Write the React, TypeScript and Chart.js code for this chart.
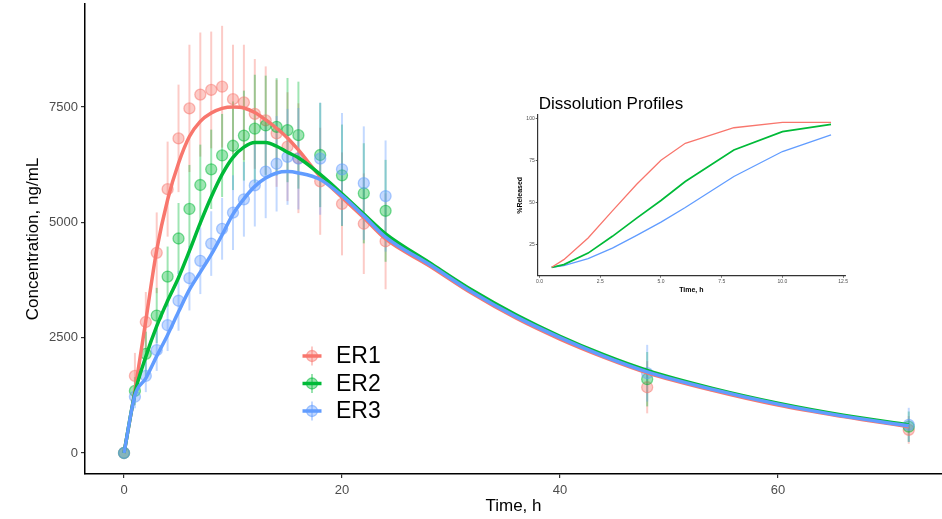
import React, { useEffect, useRef } from "react";
import { Chart, registerables } from "chart.js";

Chart.register(...registerables);

const FONT = "'Liberation Sans', Arial, Helvetica, sans-serif";

// ---------- Main plot data ----------
const SERIES = ["ER1", "ER2", "ER3"];
const COLORS = ["#F8766D", "#00BA38", "#619CFF"];

const OBS_TIMES = [0, 1, 2, 3, 4, 5, 6, 7, 8, 9, 10, 11, 12, 13, 14, 15, 16, 18, 20, 22, 24, 48, 72];
const ER1_MEAN = [0, 1670, 2840, 4340, 5720, 6820, 7470, 7770, 7870, 7940, 7670, 7600, 7350, 7210, 6930, 6640, 6390, 5890, 5400, 4970, 4590, 1425, 500];
const ER1_SD = [0, 500, 650, 875, 1030, 1165, 1380, 1345, 1265, 1320, 1180, 1250, 1190, 1170, 1160, 1180, 1190, 1160, 1115, 1090, 1040, 565, 300];
const ER2_MEAN = [0, 1345, 2150, 2980, 3825, 4650, 5290, 5810, 6150, 6450, 6660, 6880, 7030, 7100, 7070, 7000, 6890, 6460, 6020, 5630, 5250, 1600, 570];
const ER2_SD = [0, 300, 480, 600, 650, 770, 955, 875, 860, 900, 960, 975, 1170, 1080, 1055, 1130, 1160, 1130, 1100, 1085, 1105, 590, 330];
const ER3_MEAN = [0, 1220, 1670, 2230, 2770, 3300, 3790, 4165, 4540, 4860, 5210, 5500, 5800, 6100, 6270, 6420, 6380, 6380, 6150, 5850, 5570, 1730, 610];
const ER3_SD = [0, 250, 350, 450, 560, 650, 700, 720, 700, 670, 810, 810, 890, 1010, 1035, 1040, 1100, 1215, 1220, 1230, 1205, 615, 370];

const FIT_TIMES = [0, 1, 2, 3, 4, 5, 6, 7, 8, 9, 10, 11, 12, 13, 14, 15, 16, 18, 20, 22, 24, 28, 32, 36, 40, 44, 48, 54, 60, 66, 72];
const ER1_FIT = [0, 1350, 2870, 4400, 5490, 6280, 6860, 7190, 7370, 7470, 7500, 7480, 7380, 7220, 7040, 6830, 6570, 5990, 5540, 5100, 4640, 4060, 3450, 2920, 2470, 2080, 1740, 1360, 1040, 790, 570];
const ER2_FIT = [0, 1300, 2090, 2750, 3300, 3800, 4380, 4990, 5550, 6040, 6410, 6630, 6730, 6730, 6650, 6520, 6400, 6040, 5620, 5180, 4750, 4130, 3520, 2990, 2530, 2130, 1790, 1400, 1080, 820, 610];
const ER3_FIT = [0, 1250, 1620, 2100, 2560, 3060, 3540, 3920, 4300, 4730, 5180, 5510, 5780, 5960, 6070, 6100, 6070, 5930, 5580, 5140, 4680, 4090, 3480, 2950, 2500, 2100, 1760, 1380, 1060, 800, 590];

const X_TICKS = [0, 20, 40, 60];
const Y_TICKS = [0, 2500, 5000, 7500];

// ---------- Inset (dissolution) data ----------
const DISS_TIMES = [0.5, 1, 2, 3, 4, 5, 6, 8, 10, 12];
const ER1_DISS = [11.3, 15.9, 28.8, 45.0, 60.9, 75.2, 85.3, 94.6, 97.8, 97.8];
const ER2_DISS = [11.3, 12.9, 19.8, 29.8, 40.7, 51.2, 62.5, 81.3, 92.3, 96.6];
const ER3_DISS = [11.3, 12.3, 16.5, 22.8, 30.4, 38.3, 47.0, 65.5, 80.4, 90.3];
const DISS_X_TICKS = [0, 2.5, 5, 7.5, 10, 12.5];
const DISS_Y_TICKS = [25, 50, 75, 100];

const MEANS = [ER1_MEAN, ER2_MEAN, ER3_MEAN];
const SDS = [ER1_SD, ER2_SD, ER3_SD];
const FITS = [ER1_FIT, ER2_FIT, ER3_FIT];
const DISS = [ER1_DISS, ER2_DISS, ER3_DISS];

function rgba(hex: string, a: number) {
  const n = parseInt(hex.slice(1), 16);
  return `rgba(${(n >> 16) & 255},${(n >> 8) & 255},${n & 255},${a})`;
}

function zeroPad(s: any) {
  s.paddingLeft = 0;
  s.paddingRight = 0;
  s.paddingTop = 0;
  s.paddingBottom = 0;
}

const errorBarPlugin = {
  id: "errorBars",
  beforeDatasetsDraw(chart: any) {
    const { ctx, scales } = chart;
    const xs = scales.x;
    const ys = scales.y;
    ctx.save();
    chart.data.datasets.forEach((ds: any) => {
      if (!ds.sd) return;
      ctx.strokeStyle = ds.errColor;
      ctx.lineWidth = 2;
      ds.data.forEach((p: any, j: number) => {
        const sd = ds.sd[j];
        if (!sd) return;
        const px = xs.getPixelForValue(p.x);
        ctx.beginPath();
        ctx.moveTo(px, ys.getPixelForValue(p.y + sd));
        ctx.lineTo(px, ys.getPixelForValue(p.y - sd));
        ctx.stroke();
      });
    });
    ctx.restore();
  },
};

const legendPlugin = {
  id: "customLegend",
  afterDraw(chart: any) {
    const { ctx } = chart;
    ctx.save();
    SERIES.forEach((name, i) => {
      const cy = 356 + i * 27.5;
      const cx = 312;
      ctx.strokeStyle = rgba(COLORS[i], 0.4);
      ctx.lineWidth = 2;
      ctx.beginPath();
      ctx.moveTo(cx, cy - 9.5);
      ctx.lineTo(cx, cy + 9.5);
      ctx.stroke();
      ctx.beginPath();
      ctx.arc(cx, cy, 5.5, 0, Math.PI * 2);
      ctx.fillStyle = rgba(COLORS[i], 0.4);
      ctx.fill();
      ctx.lineWidth = 1.3;
      ctx.strokeStyle = rgba(COLORS[i], 0.55);
      ctx.stroke();
      ctx.strokeStyle = COLORS[i];
      ctx.lineWidth = 3.5;
      ctx.beginPath();
      ctx.moveTo(302.5, cy);
      ctx.lineTo(321.5, cy);
      ctx.stroke();
      ctx.fillStyle = "#000";
      ctx.font = `23px ${FONT}`;
      ctx.textBaseline = "middle";
      ctx.textAlign = "left";
      ctx.fillText(name, 336, cy + 1);
    });
    ctx.restore();
  },
};

const insetTitlePlugin = {
  id: "insetTitle",
  afterDraw(chart: any) {
    const { ctx, chartArea } = chart;
    ctx.save();
    ctx.fillStyle = "#000";
    ctx.font = `17px ${FONT}`;
    ctx.textBaseline = "alphabetic";
    ctx.textAlign = "left";
    ctx.fillText("Dissolution Profiles", chartArea.left + 1, 20.5);
    ctx.restore();
  },
};

export default function App() {
  const mainRef = useRef<HTMLCanvasElement | null>(null);
  const insetRef = useRef<HTMLCanvasElement | null>(null);

  useEffect(() => {
    if (!mainRef.current || !insetRef.current) return;

    const lineSets = SERIES.map((name, i) => ({
      type: "line",
      label: name + " fit",
      data: FIT_TIMES.map((t, k) => ({ x: t, y: FITS[i][k] })),
      borderColor: COLORS[i],
      backgroundColor: COLORS[i],
      borderWidth: 3.5,
      pointRadius: 0,
      fill: false,
      showLine: true,
      cubicInterpolationMode: "monotone",
      order: 3 - i,
    }));
    const pointSets = SERIES.map((name, i) => ({
      type: "scatter",
      label: name,
      data: OBS_TIMES.map((t, k) => ({ x: t, y: MEANS[i][k] })),
      sd: SDS[i],
      errColor: rgba(COLORS[i], 0.38),
      pointRadius: 5.5,
      pointHoverRadius: 5.5,
      backgroundColor: rgba(COLORS[i], 0.38),
      borderColor: rgba(COLORS[i], 0.5),
      borderWidth: 1.3,
      showLine: false,
      order: 12 - i,
    }));

    const main = new Chart(mainRef.current, {
      type: "scatter",
      data: { datasets: [...lineSets, ...pointSets] as any },
      options: {
        responsive: false,
        maintainAspectRatio: false,
        animation: false,
        layout: { autoPadding: false, padding: { top: 4, right: 0, left: 0, bottom: 0 } },
        plugins: { legend: { display: false }, tooltip: { enabled: false } },
        scales: {
          x: {
            type: "linear",
            min: -3.58,
            max: 75.05,
            afterBuildTicks: (s: any) => {
              s.ticks = X_TICKS.map((v) => ({ value: v }));
            },
            afterFit: (s: any) => {
              s.height = 45;
              zeroPad(s);
            },
            grid: { drawOnChartArea: false, drawTicks: true, tickLength: 4, tickColor: "#333", lineWidth: 1.2 },
            border: { display: true, color: "#000", width: 1.5 },
            ticks: { font: { family: FONT, size: 13 }, color: "#4D4D4D", padding: 5, maxRotation: 0, callback: (v: any) => String(v) },
            title: { display: true, text: "Time, h", font: { family: FONT, size: 17 }, color: "#000", padding: { top: 0, bottom: 2 } },
          },
          y: {
            type: "linear",
            min: -455,
            max: 9733,
            afterBuildTicks: (s: any) => {
              s.ticks = Y_TICKS.map((v) => ({ value: v }));
            },
            afterFit: (s: any) => {
              s.width = 85;
              zeroPad(s);
            },
            grid: { drawOnChartArea: false, drawTicks: true, tickLength: 4, tickColor: "#333", lineWidth: 1.2 },
            border: { display: true, color: "#000", width: 1.5 },
            ticks: { font: { family: FONT, size: 13 }, color: "#4D4D4D", padding: 3, callback: (v: any) => String(v) },
            title: { display: true, text: "Concentration, ng/mL", font: { family: FONT, size: 17 }, color: "#000", padding: { top: 23, bottom: 0 } },
          },
        },
      },
      plugins: [errorBarPlugin, legendPlugin],
    } as any);

    const inset = new Chart(insetRef.current, {
      type: "line",
      data: {
        datasets: SERIES.map((name, i) => ({
          label: name,
          data: DISS_TIMES.map((t, k) => ({ x: t, y: DISS[i][k] })),
          borderColor: COLORS[i],
          backgroundColor: COLORS[i],
          borderWidth: i === 1 ? 1.7 : 1.3,
          pointRadius: 0,
          tension: 0,
          fill: false,
        })) as any,
      },
      options: {
        responsive: false,
        maintainAspectRatio: false,
        animation: false,
        layout: { autoPadding: false, padding: { top: 27, right: 5, left: 0, bottom: 0 } },
        plugins: { legend: { display: false }, tooltip: { enabled: false } },
        scales: {
          x: {
            type: "linear",
            min: -0.075,
            max: 12.575,
            afterBuildTicks: (s: any) => {
              s.ticks = DISS_X_TICKS.map((v) => ({ value: v }));
            },
            afterFit: (s: any) => {
              s.height = 22.3;
              zeroPad(s);
            },
            grid: { drawOnChartArea: false, drawTicks: true, tickLength: 2, tickColor: "#333", lineWidth: 0.8 },
            border: { display: true, color: "#333", width: 1.2 },
            ticks: {
              font: { family: FONT, size: 5 },
              color: "#4D4D4D",
              padding: 1,
              maxRotation: 0,
              callback: (v: any) => Number(v).toFixed(1),
            },
            title: { display: true, text: "Time, h", font: { family: FONT, size: 7, weight: "bold" }, color: "#000", padding: { top: 0, bottom: 3.5 } },
          },
          y: {
            type: "linear",
            min: 6.3,
            max: 102.2,
            afterBuildTicks: (s: any) => {
              s.ticks = DISS_Y_TICKS.map((v) => ({ value: v }));
            },
            afterFit: (s: any) => {
              s.width = 32.7;
              zeroPad(s);
            },
            grid: { drawOnChartArea: false, drawTicks: true, tickLength: 2, tickColor: "#333", lineWidth: 0.8 },
            border: { display: true, color: "#333", width: 1.2 },
            ticks: { font: { family: FONT, size: 5 }, color: "#4D4D4D", padding: 1 },
            title: { display: true, text: "%Released", font: { family: FONT, size: 7, weight: "bold" }, color: "#000", padding: { top: 11, bottom: 0 } },
          },
        },
      },
      plugins: [insetTitlePlugin],
    } as any);

    return () => {
      main.destroy();
      inset.destroy();
    };
  }, []);

  return (
    <div style={{ position: "fixed", left: 0, top: 0, width: 942, height: 519, background: "#fff" }}>
      <canvas ref={mainRef} width={942} height={519} style={{ position: "absolute", left: 0, top: 0, width: 942, height: 519 }} />
      <canvas ref={insetRef} width={345} height={210} style={{ position: "absolute", left: 505, top: 88, width: 345, height: 210 }} />
    </div>
  );
}
